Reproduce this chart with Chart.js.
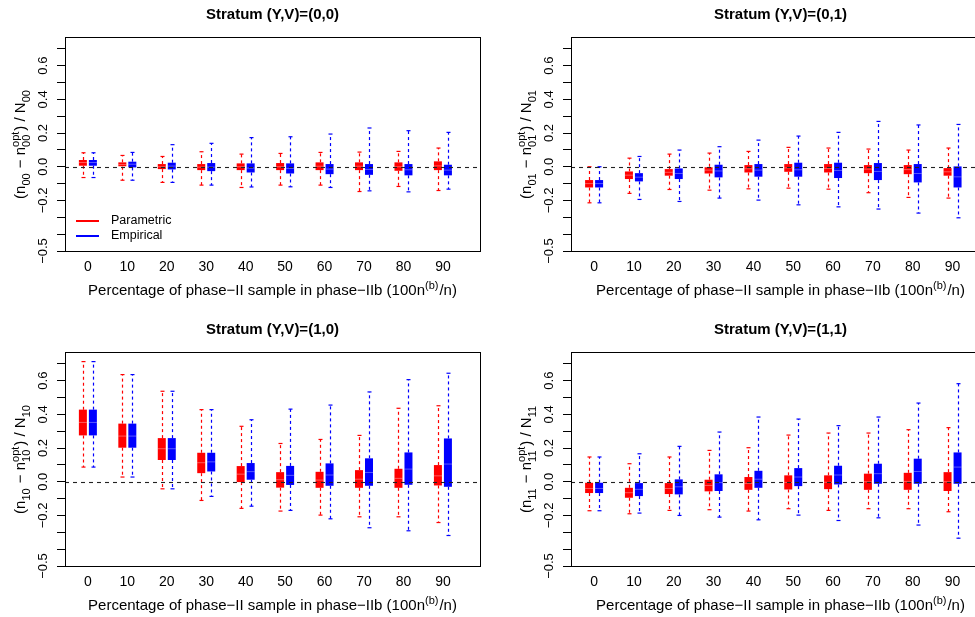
<!DOCTYPE html>
<html>
<head>
<meta charset="utf-8">
<script src="https://cdn.jsdelivr.net/npm/chart.js@4.4.1/dist/chart.umd.min.js"></script>
<style>
  body { margin: 0; width: 975px; height: 617px; overflow: hidden; background: #fff; position: relative; }
  canvas { position: absolute; }
</style>
</head>
<body>
<canvas id="p00" width="487" height="308" style="left:0;top:0"></canvas>
<canvas id="p01" width="510" height="308" style="left:487px;top:0"></canvas>
<canvas id="p10" width="487" height="302" style="left:0;top:315px"></canvas>
<canvas id="p11" width="510" height="302" style="left:487px;top:315px"></canvas>
<script>
// Categories on the x axis (percentage of phase-II sample in phase-IIb)
const categories = ['0', '10', '20', '30', '40', '50', '60', '70', '80', '90'];

// y axis: tick marks and the labels R kept
const yTickValues = [-0.5, -0.4, -0.3, -0.2, -0.1, 0.0, 0.1, 0.2, 0.3, 0.4, 0.5, 0.6, 0.7];
const yLabelValues = [-0.5, -0.2, 0.0, 0.2, 0.4, 0.6];
const yLabelTexts = ['\u22120.5', '\u22120.2', '0.0', '0.2', '0.4', '0.6'];
const refLine = 0;

// Five-number summaries per box: [lower whisker, Q1, median, Q3, upper whisker]
const par00 = [
  [-0.064, 0.006, 0.025, 0.040, 0.083], [-0.080, 0.000, 0.013, 0.026, 0.067],
  [-0.093, -0.014, 0.000, 0.016, 0.061], [-0.109, -0.020, -0.002, 0.016, 0.089],
  [-0.123, -0.020, 0.000, 0.020, 0.075], [-0.109, -0.020, 0.000, 0.022, 0.079],
  [-0.109, -0.020, 0.003, 0.026, 0.085], [-0.147, -0.020, 0.003, 0.026, 0.087],
  [-0.117, -0.024, 0.000, 0.026, 0.091], [-0.141, -0.020, 0.005, 0.032, 0.111]
];
const emp00 = [
  [-0.064, 0.006, 0.025, 0.040, 0.083], [-0.080, -0.004, 0.015, 0.030, 0.085],
  [-0.093, -0.016, 0.004, 0.024, 0.131], [-0.109, -0.026, -0.002, 0.022, 0.139],
  [-0.120, -0.034, -0.008, 0.020, 0.173], [-0.119, -0.040, -0.010, 0.020, 0.178],
  [-0.123, -0.044, -0.014, 0.016, 0.194], [-0.143, -0.048, -0.016, 0.016, 0.230],
  [-0.149, -0.051, -0.018, 0.016, 0.214], [-0.133, -0.051, -0.020, 0.012, 0.204]
];
const par01 = [
  [-0.214, -0.123, -0.100, -0.079, 0.000], [-0.158, -0.073, -0.050, -0.028, 0.051],
  [-0.135, -0.053, -0.033, -0.014, 0.075], [-0.139, -0.040, -0.020, 0.000, 0.081],
  [-0.131, -0.034, -0.012, 0.010, 0.091], [-0.127, -0.030, -0.007, 0.016, 0.115],
  [-0.133, -0.034, -0.010, 0.016, 0.111], [-0.154, -0.038, -0.014, 0.010, 0.105],
  [-0.182, -0.044, -0.017, 0.010, 0.099], [-0.186, -0.053, -0.030, -0.008, 0.111]
];
const emp01 = [
  [-0.214, -0.123, -0.100, -0.079, 0.000], [-0.194, -0.087, -0.062, -0.038, 0.061],
  [-0.206, -0.073, -0.040, -0.010, 0.099], [-0.186, -0.063, -0.025, 0.012, 0.119],
  [-0.198, -0.059, -0.020, 0.016, 0.158], [-0.226, -0.059, -0.018, 0.024, 0.182],
  [-0.238, -0.067, -0.022, 0.024, 0.204], [-0.251, -0.079, -0.028, 0.022, 0.269],
  [-0.275, -0.093, -0.040, 0.016, 0.248], [-0.303, -0.123, -0.060, 0.002, 0.251]
];
const par10 = [
  [0.087, 0.275, 0.352, 0.428, 0.713], [0.028, 0.202, 0.271, 0.345, 0.636],
  [-0.042, 0.129, 0.196, 0.259, 0.537], [-0.111, 0.051, 0.113, 0.172, 0.428],
  [-0.158, -0.002, 0.045, 0.093, 0.329], [-0.174, -0.035, 0.012, 0.057, 0.227],
  [-0.198, -0.036, 0.010, 0.059, 0.251], [-0.208, -0.036, 0.015, 0.069, 0.275],
  [-0.208, -0.036, 0.020, 0.077, 0.436], [-0.242, -0.022, 0.035, 0.099, 0.451]
];
const emp10 = [
  [0.087, 0.275, 0.352, 0.428, 0.713], [0.028, 0.202, 0.271, 0.345, 0.636],
  [-0.042, 0.129, 0.196, 0.259, 0.537], [-0.087, 0.061, 0.118, 0.172, 0.428],
  [-0.145, 0.012, 0.060, 0.111, 0.368], [-0.170, -0.019, 0.038, 0.094, 0.431],
  [-0.220, -0.024, 0.040, 0.109, 0.455], [-0.273, -0.024, 0.055, 0.139, 0.533],
  [-0.291, -0.018, 0.075, 0.174, 0.606], [-0.319, -0.030, 0.105, 0.257, 0.644]
];
const par11 = [
  [-0.172, -0.067, -0.040, -0.006, 0.147], [-0.190, -0.095, -0.065, -0.036, 0.107],
  [-0.170, -0.073, -0.040, -0.008, 0.147], [-0.166, -0.057, -0.022, 0.012, 0.186],
  [-0.174, -0.048, -0.010, 0.028, 0.202], [-0.160, -0.046, -0.004, 0.038, 0.277],
  [-0.170, -0.044, -0.003, 0.038, 0.289], [-0.160, -0.048, 0.000, 0.048, 0.289],
  [-0.160, -0.048, 0.002, 0.053, 0.309], [-0.178, -0.055, 0.000, 0.057, 0.321]
];
const emp11 = [
  [-0.172, -0.067, -0.040, -0.006, 0.147], [-0.186, -0.085, -0.045, -0.008, 0.166],
  [-0.200, -0.075, -0.030, 0.014, 0.210], [-0.210, -0.055, -0.005, 0.044, 0.295],
  [-0.226, -0.036, 0.015, 0.065, 0.384], [-0.198, -0.026, 0.028, 0.081, 0.372],
  [-0.230, -0.016, 0.040, 0.095, 0.333], [-0.214, -0.012, 0.048, 0.107, 0.384],
  [-0.257, -0.012, 0.061, 0.137, 0.467], [-0.335, -0.012, 0.087, 0.174, 0.582]
];

const FONT = '"Liberation Sans", Arial, Helvetica, sans-serif';
const X_MIN = -0.58, X_MAX = 9.94;

// Width of one piece of rich text (plain, or stacked sub/superscript)
function partWidth(ctx, p, size) {
  if (p.t) {
    ctx.font = size + 'px ' + FONT;
    return ctx.measureText(p.t).width;
  }
  ctx.font = Math.round(size * 0.72) + 'px ' + FONT;
  const a = p.sub ? ctx.measureText(p.sub).width : 0;
  const b = p.sup ? ctx.measureText(p.sup).width : 0;
  return Math.max(a, b) + 1;
}

// Draw rich text centred on (x, y)
function drawRich(ctx, parts, x, y, size) {
  const total = parts.reduce((s, p) => s + partWidth(ctx, p, size), 0);
  let cx = x - total / 2;
  const base = y + size * 0.36;
  ctx.textAlign = 'left';
  ctx.textBaseline = 'alphabetic';
  ctx.fillStyle = '#000';
  parts.forEach(p => {
    const w = partWidth(ctx, p, size);
    if (p.t) {
      ctx.font = size + 'px ' + FONT;
      ctx.fillText(p.t, cx, base);
    } else {
      ctx.font = Math.round(size * 0.72) + 'px ' + FONT;
      if (p.sub) ctx.fillText(p.sub, cx, base + size * 0.28);
      if (p.sup) ctx.fillText(p.sup, cx, base - size * 0.45);
    }
    cx += w;
  });
}

function line(ctx, x1, y1, x2, y2) {
  ctx.beginPath();
  ctx.moveTo(x1, y1);
  ctx.lineTo(x2, y2);
  ctx.stroke();
}

// Whiskers, medians, reference line, frame and texts of each panel
const boxPlotPlugin = {
  id: 'boxParts',
  afterDatasetsDraw(chart, args, opts) {
    const ctx = chart.ctx;
    const ys = chart.scales.y;
    const area = chart.chartArea;
    const py = v => ys.getPixelForValue(v);

    chart.data.datasets.forEach((ds, di) => {
      const meta = chart.getDatasetMeta(di);
      meta.data.forEach((bar, i) => {
        const s = ds.stats[i];
        const x = Math.round(bar.x) + 0.5;
        const half = bar.width / 2;
        ctx.save();
        ctx.strokeStyle = ds.backgroundColor;
        ctx.lineWidth = 1.2;
        ctx.setLineDash([3, 3]);
        line(ctx, x, py(s[3]), x, py(s[4]));
        line(ctx, x, py(s[1]), x, py(s[0]));
        ctx.setLineDash([]);
        line(ctx, x - half / 2, py(s[4]), x + half / 2, py(s[4]));
        line(ctx, x - half / 2, py(s[0]), x + half / 2, py(s[0]));
        ctx.strokeStyle = 'rgba(255,255,255,0.35)';
        ctx.lineWidth = 1;
        line(ctx, bar.x - half, py(s[2]), bar.x + half, py(s[2]));
        ctx.restore();
      });
    });

    ctx.save();
    // dashed zero line
    ctx.strokeStyle = '#222';
    ctx.lineWidth = 1.1;
    ctx.setLineDash([4, 4]);
    const zy = Math.round(py(refLine)) + 0.5;
    line(ctx, area.left, zy, area.right, zy);
    ctx.setLineDash([]);

    // plot frame
    ctx.strokeStyle = '#000';
    ctx.lineWidth = 1;
    ctx.strokeRect(Math.round(area.left) + 0.5, Math.round(area.top) + 0.5,
      Math.round(area.right - area.left), Math.round(area.bottom - area.top));

    // panel title
    ctx.fillStyle = '#000';
    ctx.font = 'bold 15px ' + FONT;
    ctx.textAlign = 'center';
    ctx.textBaseline = 'middle';
    ctx.fillText(opts.title, (area.left + area.right) / 2, area.top - 22);

    // y tick labels, rotated like R
    ctx.font = '13px ' + FONT;
    yLabelValues.forEach((v, i) => {
      ctx.save();
      ctx.translate(area.left - 22, py(v));
      ctx.rotate(-Math.PI / 2);
      ctx.textAlign = 'center';
      ctx.textBaseline = 'middle';
      ctx.fillText(yLabelTexts[i], 0, 0);
      ctx.restore();
    });

    // y axis title
    const sub = opts.sub;
    ctx.save();
    ctx.translate(area.left - 45, (area.top + area.bottom) / 2);
    ctx.rotate(-Math.PI / 2);
    drawRich(ctx, [{ t: '(n' }, { sub: sub }, { t: ' \u2212 n' }, { sub: sub, sup: 'opt' },
      { t: ') / N' }, { sub: sub }], 0, 0, 15);
    ctx.restore();

    // x axis title
    drawRich(ctx, [{ t: 'Percentage of phase\u2212II sample in phase\u2212IIb (100n' }, { sup: '(b)' }, { t: '/n)' }],
      (area.left + area.right) / 2, area.bottom + 39, 15);

    // legend (first panel only)
    if (opts.legend) {
      chart.data.datasets.forEach((ds, di) => {
        const ly = area.bottom - 30 + di * 15;
        ctx.strokeStyle = ds.backgroundColor;
        ctx.lineWidth = 2;
        line(ctx, area.left + 11, ly, area.left + 34, ly);
        ctx.fillStyle = '#000';
        ctx.font = '12.5px ' + FONT;
        ctx.textAlign = 'left';
        ctx.textBaseline = 'middle';
        ctx.fillText(ds.label, area.left + 46, ly);
      });
    }
    ctx.restore();
  }
};

const panels = [
  { id: 'p00', title: 'Stratum (Y,V)=(0,0)', sub: '00', par: par00, emp: emp00, legend: true, axisWidth: 65, plotWidth: 415 },
  { id: 'p01', title: 'Stratum (Y,V)=(0,1)', sub: '01', par: par01, emp: emp01, legend: false, axisWidth: 84, plotWidth: 419 },
  { id: 'p10', title: 'Stratum (Y,V)=(1,0)', sub: '10', par: par10, emp: emp10, legend: false, axisWidth: 65, plotWidth: 415 },
  { id: 'p11', title: 'Stratum (Y,V)=(1,1)', sub: '11', par: par11, emp: emp11, legend: false, axisWidth: 84, plotWidth: 419 }
];

function boxData(stats) {
  return stats.map((b, i) => ({ x: i, y: [b[1], b[3]] }));
}

panels.forEach(p => {
  const canvas = document.getElementById(p.id);
  const H = canvas.height;
  const unitPx = p.plotWidth / (X_MAX - X_MIN);

  new Chart(canvas, {
    type: 'bar',
    data: {
      datasets: [
        { label: 'Parametric', data: boxData(p.par), stats: p.par, backgroundColor: '#ff0000', borderWidth: 0 },
        { label: 'Empirical', data: boxData(p.emp), stats: p.emp, backgroundColor: '#0000ff', borderWidth: 0 }
      ]
    },
    options: {
      responsive: false,
      animation: false,
      devicePixelRatio: 1,
      categoryPercentage: 20 / unitPx,
      barPercentage: 0.8,
      layout: { padding: { top: 37, left: 0, bottom: 0, right: canvas.width - p.axisWidth - p.plotWidth } },
      plugins: {
        legend: { display: false },
        tooltip: { enabled: false },
        boxParts: { title: p.title, sub: p.sub, legend: p.legend }
      },
      scales: {
        x: {
          type: 'linear',
          min: X_MIN,
          max: X_MAX,
          offset: false,
          grid: { display: false },
          border: { display: false },
          afterBuildTicks: s => { s.ticks = categories.map((c, i) => ({ value: i })); },
          afterFit: s => { s.height = H - 251; },
          ticks: {
            callback: v => categories[v],
            font: { family: FONT, size: 14 },
            color: '#000',
            padding: 0,
            maxRotation: 0,
            autoSkip: false
          }
        },
        y: {
          min: -0.5,
          max: 0.77,
          afterBuildTicks: s => { s.ticks = yTickValues.map(v => ({ value: v })); },
          afterFit: s => { s.width = p.axisWidth; },
          ticks: { display: false },
          grid: { drawOnChartArea: false, drawTicks: true, tickLength: 8, color: '#000' },
          border: { display: false }
        }
      }
    },
    plugins: [boxPlotPlugin]
  });
});
</script>
</body>
</html>
